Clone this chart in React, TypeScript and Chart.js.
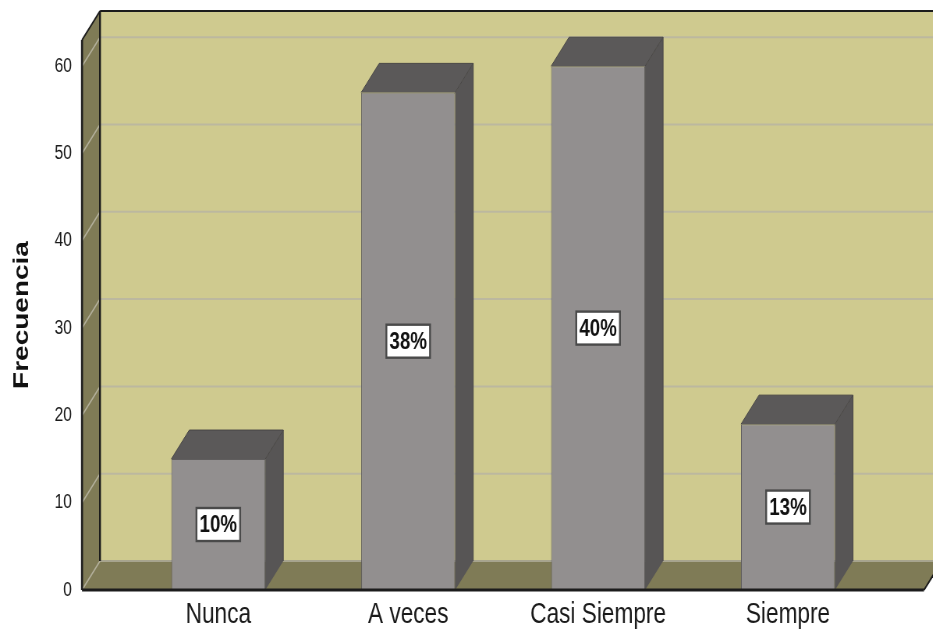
import React, { useEffect, useRef } from 'react';
import { Chart, registerables } from 'chart.js';

Chart.register(...registerables);

// ---- data ----
const categories = ['Nunca', 'A veces', 'Casi Siempre', 'Siempre'];
const frequencies = [15, 57, 60, 19];
const percentLabels = ['10%', '38%', '40%', '13%'];
const yTickValues = [0, 10, 20, 30, 40, 50, 60];
const yAxisMax = 63;

// ---- layout / style ----
const SQUEEZE = 0.78; // horizontal compression of the whole picture
const VIEW_W = 933;
const VIEW_H = 632;
const CANVAS_W = Math.round(VIEW_W / SQUEEZE);
const FRONT_LEFT = 82 / SQUEEZE;
const FRONT_RIGHT = 924 / SQUEEZE;
const FRONT_TOP = 40;
const FRONT_BOTTOM = 590;
const DEPTH_X = 18 / SQUEEZE;
const DEPTH_Y = -29;
const X_MIN = -0.7177;
const X_MAX = 3.7162;
const FONT = '"Liberation Sans", Arial, Helvetica, sans-serif';

const BACK_WALL = '#cfca8f';
const SIDE_WALL = '#7f7b56';
const GRID = '#bcb89f';
const SIDE_GRID = '#b3b09c';
const EDGE = '#1c1c1c';
const BAR_FRONT = '#928f8f';
const BAR_TOP = '#5b5959';
const BAR_SIDE = '#575555';

function poly(ctx: CanvasRenderingContext2D, pts: number[][], fill: string) {
  ctx.beginPath();
  ctx.moveTo(pts[0][0], pts[0][1]);
  for (let i = 1; i < pts.length; i++) ctx.lineTo(pts[i][0], pts[i][1]);
  ctx.closePath();
  ctx.fillStyle = fill;
  ctx.fill();
}

function line(ctx: CanvasRenderingContext2D, x1: number, y1: number, x2: number, y2: number, color: string, w: number) {
  ctx.beginPath();
  ctx.moveTo(x1, y1);
  ctx.lineTo(x2, y2);
  ctx.strokeStyle = color;
  ctx.lineWidth = w;
  ctx.stroke();
}

const threeD = {
  id: 'threeD',
  beforeDraw(chart: any) {
    const { ctx, chartArea } = chart;
    const { left: L, right: R, top: T, bottom: B } = chartArea;
    const y = chart.scales.y;
    const W = chart.width;
    const dx = DEPTH_X;
    const dy = DEPTH_Y;
    ctx.save();
    // back wall
    ctx.fillStyle = BACK_WALL;
    ctx.fillRect(L + dx, T + dy, W - (L + dx), B - T);
    // back wall grid lines
    for (const v of yTickValues) {
      if (v === 0) continue;
      const py = y.getPixelForValue(v) + dy;
      line(ctx, L + dx, py, W, py, GRID, 2);
    }
    // side wall
    poly(ctx, [[L, T], [L + dx, T + dy], [L + dx, B + dy], [L, B]], SIDE_WALL);
    for (const v of yTickValues) {
      if (v === 0) continue;
      const py = y.getPixelForValue(v);
      line(ctx, L, py, L + dx, py + dy, SIDE_GRID, 1.6);
    }
    // floor
    poly(ctx, [[L, B], [L + dx, B + dy], [R + dx, B + dy], [R, B]], SIDE_WALL);
    line(ctx, L + dx, B + dy, W, B + dy, '#a7a48e', 2);
    line(ctx, L, B, L + dx, B + dy, SIDE_GRID, 1.6);
    // outlines
    line(ctx, L, T, L, B, EDGE, 2.6);
    line(ctx, L, T, L + dx, T + dy, EDGE, 2);
    line(ctx, L + dx, T + dy, W, T + dy, EDGE, 2);
    line(ctx, L + dx, T + dy, L + dx, B + dy, EDGE, 2.4);
    line(ctx, R, B, R + dx, B + dy, EDGE, 2);
    ctx.restore();
  },
  afterDatasetsDraw(chart: any) {
    const { ctx, chartArea } = chart;
    const { left: L, right: R, bottom: B } = chartArea;
    const dx = DEPTH_X;
    const dy = DEPTH_Y;
    const meta = chart.getDatasetMeta(0);
    ctx.save();
    meta.data.forEach((bar: any, i: number) => {
      const { x, y: top, width, base } = bar.getProps(['x', 'y', 'width', 'base'], true);
      const x0 = x - width / 2;
      const x1 = x + width / 2;
      // top face
      poly(ctx, [[x0, top], [x0 + dx, top + dy], [x1 + dx, top + dy], [x1, top]], BAR_TOP);
      // side face
      poly(ctx, [[x1, top], [x1 + dx, top + dy], [x1 + dx, base + dy], [x1, base]], BAR_SIDE);
      ctx.beginPath();
      ctx.moveTo(x0, top);
      ctx.lineTo(x0 + dx, top + dy);
      ctx.lineTo(x1 + dx, top + dy);
      ctx.lineTo(x1 + dx, base + dy);
      ctx.moveTo(x1, top);
      ctx.lineTo(x1 + dx, top + dy);
      ctx.strokeStyle = '#484646';
      ctx.lineWidth = 1;
      ctx.stroke();
    });
    // front bottom edge
    line(ctx, L, B, R, B, EDGE, 3);
    // percentage boxes
    meta.data.forEach((bar: any, i: number) => {
      const { x, y: top, base } = bar.getProps(['x', 'y', 'base'], true);
      const cy = (top + base) / 2;
      const bw = 56;
      const bh = 33;
      ctx.fillStyle = '#ffffff';
      ctx.fillRect(x - bw / 2, cy - bh / 2, bw, bh);
      ctx.strokeStyle = '#4a4a4a';
      ctx.lineWidth = 2.4;
      ctx.strokeRect(x - bw / 2, cy - bh / 2, bw, bh);
      ctx.fillStyle = '#111111';
      ctx.font = `bold 24px ${FONT}`;
      ctx.textAlign = 'center';
      ctx.textBaseline = 'middle';
      ctx.fillText(percentLabels[i], x, cy + 1);
    });
    ctx.restore();
  },
};

export default function App() {
  const ref = useRef<HTMLCanvasElement>(null);

  useEffect(() => {
    if (!ref.current) return;
    const chart = new Chart(ref.current, {
      type: 'bar',
      data: {
        datasets: [
          {
            data: frequencies.map((v, i) => ({ x: i, y: v })),
            backgroundColor: BAR_FRONT,
            borderColor: '#5f5d5d',
            borderWidth: 1,
            barPercentage: 0.495,
            categoryPercentage: 1,
          },
        ],
      },
      options: {
        animation: false,
        responsive: false,
        devicePixelRatio: 1,
        layout: { padding: { left: 0, right: CANVAS_W - FRONT_RIGHT, top: FRONT_TOP, bottom: 0 } },
        plugins: { legend: { display: false }, tooltip: { enabled: false } },
        scales: {
          x: {
            type: 'linear',
            min: X_MIN,
            max: X_MAX,
            offset: false,
            grid: { display: false, drawTicks: false },
            border: { display: false },
            afterBuildTicks: (axis: any) => {
              axis.ticks = categories.map((_, i) => ({ value: i }));
            },
            afterFit: (s: any) => {
              s.height = VIEW_H - FRONT_BOTTOM;
            },
            ticks: {
              padding: 8,
              color: '#1a1a1a',
              autoSkip: false,
              maxRotation: 0,
              font: { family: FONT, size: 29 },
              callback: (v: any) => categories[v] ?? '',
            },
          },
          y: {
            min: 0,
            max: yAxisMax,
            grid: { display: false, drawTicks: false },
            border: { display: false },
            afterBuildTicks: (axis: any) => {
              axis.ticks = yTickValues.map((v) => ({ value: v }));
            },
            afterFit: (s: any) => {
              s.width = FRONT_LEFT;
            },
            ticks: {
              padding: 13,
              color: '#1a1a1a',
              font: { family: FONT, size: 20 },
            },
            title: {
              display: true,
              text: 'Frecuencia',
              color: '#111111',
              font: { family: FONT, size: 28, weight: 'bold' },
              padding: { top: 11, bottom: 0 },
            },
          },
        },
      },
      plugins: [threeD],
    } as any);
    return () => chart.destroy();
  }, []);

  return (
    <div
      style={{
        position: 'fixed',
        left: 0,
        top: 0,
        width: VIEW_W,
        height: VIEW_H,
        overflow: 'hidden',
        background: '#ffffff',
      }}
    >
      <canvas
        ref={ref}
        width={CANVAS_W}
        height={VIEW_H}
        style={{
          display: 'block',
          width: CANVAS_W,
          height: VIEW_H,
          transform: `scaleX(${SQUEEZE})`,
          transformOrigin: '0 0',
        }}
      />
    </div>
  );
}
